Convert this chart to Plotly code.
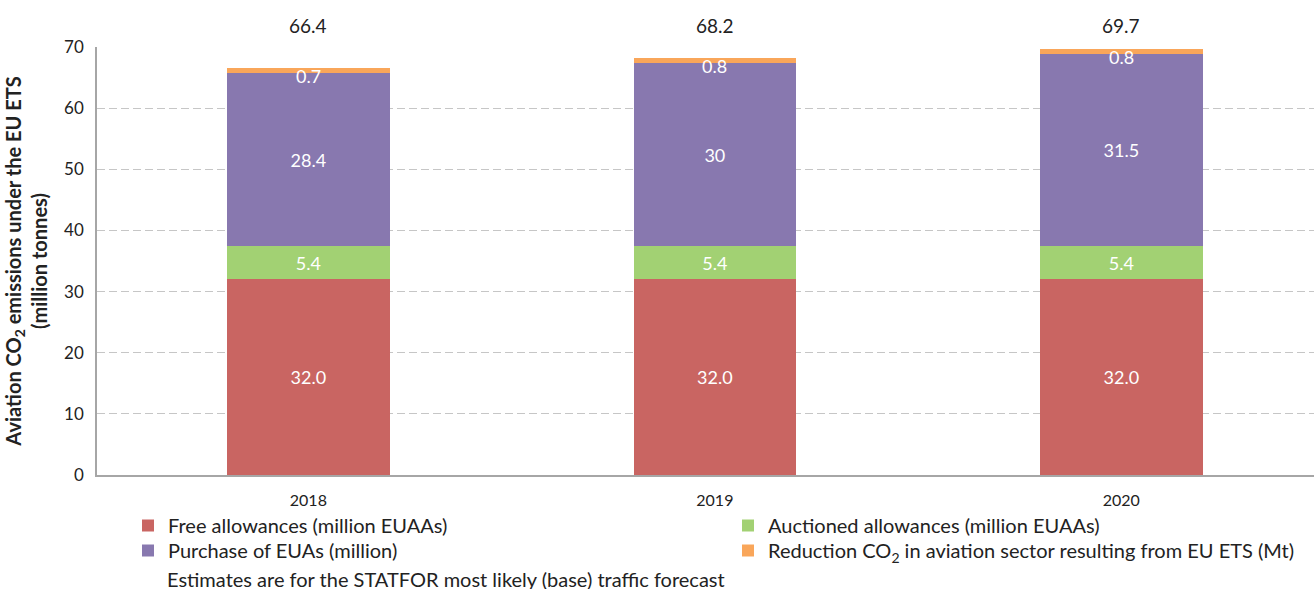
import plotly.graph_objects as go

years = ["2018", "2019", "2020"]
free_allowances = [32.0, 32.0, 32.0]
auctioned_allowances = [5.4, 5.4, 5.4]
purchase_euas = [28.4, 30.0, 31.5]
reduction_co2 = [0.7, 0.8, 0.8]
totals = [66.4, 68.2, 69.7]

# name, values, colour, label format
series = [
    ("Free allowances (million EUAAs)", free_allowances, "#C96562", ".1f"),
    ("Auctioned allowances (million EUAAs)", auctioned_allowances, "#A2D173", ".1f"),
    ("Purchase of EUAs (million)", purchase_euas, "#8878AF", "g"),
    ("Reduction CO<sub>2</sub> in aviation sector resulting from EU ETS (Mt)", reduction_co2, "#F9A65A", None),
]
# legend entry positions (left x, top y in px): two columns, two rows
legend_slots = [(128, 506), (728, 506), (128, 531), (728, 531)]

FONT = "Lato"
W, H = 1314, 589
ML, MR, MT, MB = 97, 0, 47, 114

fig = go.Figure()
legend_layout = {}
for i, ((name, vals, color, fmt), (lx, ly)) in enumerate(zip(series, legend_slots)):
    key = "legend" if i == 0 else f"legend{i + 1}"
    fig.add_bar(
        x=years, y=vals, name=name, legend=key, width=0.4,
        marker=dict(color=color, line=dict(width=0)),
        text=[format(v, fmt) for v in vals] if fmt else None,
        textposition="inside" if fmt else "none",
        insidetextanchor="middle",
        textfont=dict(color="white", size=18, family=FONT),
        hoverinfo="x+y+name",
    )
    legend_layout[key] = dict(
        orientation="h", xref="container", yref="container",
        x=lx / W, y=(H - ly) / H, xanchor="left", yanchor="top",
        itemwidth=30, borderwidth=0, bgcolor="rgba(0,0,0,0)",
        font=dict(size=20, family=FONT, color="#222222"),
    )

annotations = []
# small top-segment values, placed just under the orange band (x as category index)
for i, (f, a, p, r) in enumerate(zip(free_allowances, auctioned_allowances, purchase_euas, reduction_co2)):
    annotations.append(dict(
        x=i, y=f + a + p, xref="x", yref="y", text=f"{r:g}", showarrow=False,
        font=dict(color="white", size=18, family=FONT), yanchor="middle", yshift=-3,
    ))
# stacked totals above the plot area
for i, t in enumerate(totals):
    annotations.append(dict(
        x=i, y=1, xref="x", yref="paper", text=f"{t:.1f}", showarrow=False,
        font=dict(color="#222222", size=19, family=FONT), yanchor="bottom", yshift=8,
    ))
annotations.append(dict(
    x=(165 - ML) / (W - ML - MR), y=(H - MB - 579) / (H - MT - MB),
    xref="paper", yref="paper",
    text="Estimates are for the STATFOR most likely (base) traffic forecast",
    showarrow=False, font=dict(color="#222222", size=20, family=FONT),
    xanchor="left", yanchor="middle",
))

fig.update_layout(
    width=W, height=H,
    margin=dict(l=ML, r=MR, t=MT, b=MB),
    barmode="stack",
    plot_bgcolor="white", paper_bgcolor="white",
    font=dict(family=FONT, color="#222222"),
    showlegend=True,
    annotations=annotations,
    **legend_layout,
)

fig.update_xaxes(
    type="category", range=[-0.52, 2.474], automargin=False,
    showline=True, linecolor="#A6A6A6", linewidth=1.5, ticks="",
    ticklabelstandoff=10,
    tickfont=dict(size=16, family=FONT, color="#222222"),
)
fig.update_yaxes(
    range=[0, 70], dtick=10, automargin=False,
    showgrid=True, gridcolor="#C6C6C6", griddash="8px,4px", gridwidth=1,
    showline=True, linecolor="#A6A6A6", linewidth=1.5, zeroline=False, ticks="",
    ticklabelstandoff=8,
    tickfont=dict(size=17, family=FONT, color="#222222"),
    title=dict(
        text="<b>Aviation CO<sub>2</sub> emissions under the EU ETS<br>(million tonnes)</b>",
        font=dict(size=20, family=FONT, color="#222222"), standoff=11,
    ),
)

fig.write_html("out.html")
